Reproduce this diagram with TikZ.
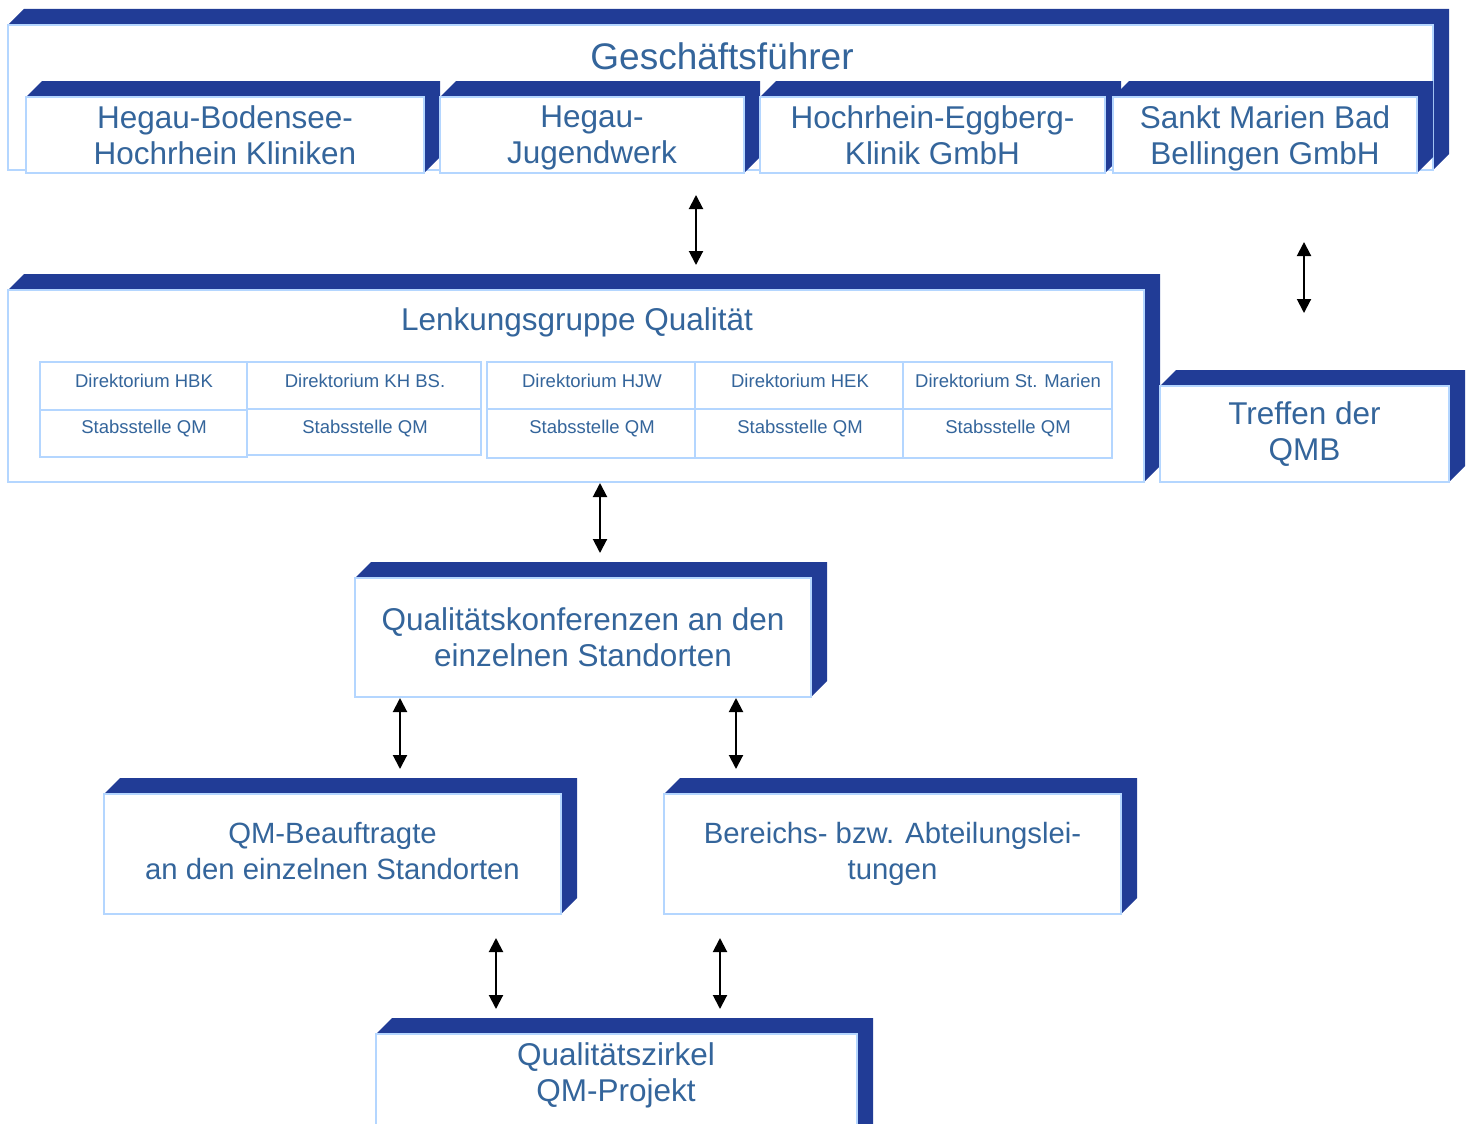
\documentclass[tikz,border=0pt]{standalone}
\usepackage{fontspec}
\setmainfont{Liberation Sans}
\usetikzlibrary{arrows.meta}
\definecolor{deep}{RGB}{33,60,150}
\definecolor{rim}{RGB}{180,214,255}
\definecolor{ink}{RGB}{52,101,155}
\newcommand{\bigfont}{\fontsize{31.5}{36}\selectfont}
\newcommand{\qmbfont}{\fontsize{31.5}{37}\selectfont}
\newcommand{\midfont}{\fontsize{29.3}{34}\selectfont}
\newcommand{\smallfont}{\fontsize{18.5}{22}\selectfont}
\newcommand{\topfont}{\fontsize{37}{42}\selectfont}
\newcommand{\cubebox}[6]{%
  \fill[deep] (#2,#3) -- (#2+16,#3-16) -- (#4+16,#3-16) -- (#4+16,#5-16) -- (#4,#5) -- cycle;
  \node[front, minimum width={#4-#2}, minimum height={#5-#3}] (#1) at ({(#2+#4)/2},{(#3+#5)/2}) {#6};
}
\begin{document}
\begin{tikzpicture}[x=1pt,y=-1pt,
  front/.style={draw=rim, line width=2pt, fill=white, text=ink, align=center,
    inner sep=0pt, outer sep=0pt, font=\bigfont},
  cell/.style={draw=rim, line width=2pt},
  celltext/.style={text=ink, font=\smallfont, inner sep=0pt},
  titletext/.style={text=ink, inner sep=0pt, anchor=base},
  dbl/.style={{Triangle[length=14pt,width=14pt]}-{Triangle[length=14pt,width=14pt]}, line width=2pt, black}]
\useasboundingbox (0,0) rectangle (1472,1124);
\clip (0,0) rectangle (1472,1124);

% Geschaeftsfuehrer
\cubebox{gf}{8}{25}{1433}{170}{}
\node[titletext, font=\topfont] (gft) at (722,70) {Geschäftsführer};
\cubebox{hbk}{26}{97}{424}{173}{Hegau-Bodensee-\\Hochrhein Kliniken}
\cubebox{hjw}{440}{97}{744}{173}{Hegau-\\\smash{Jugendwerk}}
\cubebox{hek}{760}{97}{1105}{173}{Hochrhein-Eggberg-\\Klinik GmbH}
\cubebox{smb}{1113}{97}{1417}{173}{Sankt Marien Bad\\\smash{Bellingen GmbH}}

% Lenkungsgruppe
\cubebox{lgq}{8}{290}{1144}{482}{}
\node[titletext, font=\bigfont] (lgt) at (577,330) {Lenkungsgruppe Qualität};
\draw[cell] (40,362) rectangle (247,457);
\draw[cell] (40,410) -- (247,410);
\draw[cell] (247,362) rectangle (481,455);
\draw[cell] (247,409) -- (481,409);
\draw[cell] (487,362) rectangle (1112,458);
\draw[cell] (487,409) -- (1112,409);
\draw[cell] (695,362) -- (695,458);
\draw[cell] (903,362) -- (903,458);
\node[celltext] (d1) at (144,381) {Direktorium HBK};
\node[celltext] (d2) at (365,381) {Direktorium KH BS.};
\node[celltext] (d3) at (592,381) {Direktorium HJW};
\node[celltext] (d4) at (800,381) {Direktorium HEK};
\node[celltext] (d5) at (1008,381) {Direktorium St. Marien};
\node[celltext] (s1) at (144,429) {Stabsstelle QM};
\node[celltext] (s2) at (365,429) {Stabsstelle QM};
\node[celltext] (s3) at (592,429) {Stabsstelle QM};
\node[celltext] (s4) at (800,429) {Stabsstelle QM};
\node[celltext] (s5) at (1008,429) {Stabsstelle QM};

% Treffen der QMB
\cubebox{tq}{1160}{386}{1449}{482}{\qmbfont Treffen der\\\qmbfont QMB}

% Qualitaetskonferenzen
\cubebox{qk}{355}{578}{811}{697}{Qualitätskonferenzen an den\\einzelnen Standorten}

% lower boxes
\cubebox{qmb}{104}{794}{561}{914}{\midfont QM-Beauftragte\\\midfont an den einzelnen Standorten\rule[-7pt]{0pt}{7pt}}
\cubebox{bal}{664}{794}{1121}{914}{\midfont Bereichs- bzw. Abteilungslei-\\\midfont tungen}

% Qualitaetszirkel
\cubebox{qz}{376}{1034}{857}{1180}{}
\node[titletext, font=\bigfont, align=center, anchor=center] (qzt) at (616,1075) {Qualitätszirkel\\QM-Projekt};

% arrows
\coordinate (a1t) at (696,195);  \coordinate (a1b) at (696,265);
\coordinate (a2t) at (1304,242); \coordinate (a2b) at (1304,313);
\coordinate (a3t) at (600,483);  \coordinate (a3b) at (600,553);
\coordinate (a4t) at (400,698);  \coordinate (a4b) at (400,769);
\coordinate (a5t) at (736,698);  \coordinate (a5b) at (736,769);
\coordinate (a6t) at (496,938);  \coordinate (a6b) at (496,1009);
\coordinate (a7t) at (720,938);  \coordinate (a7b) at (720,1009);
\draw[dbl] (a1t) -- (a1b);
\draw[dbl] (a2t) -- (a2b);
\draw[dbl] (a3t) -- (a3b);
\draw[dbl] (a4t) -- (a4b);
\draw[dbl] (a5t) -- (a5b);
\draw[dbl] (a6t) -- (a6b);
\draw[dbl] (a7t) -- (a7b);
\end{tikzpicture}
\end{document}
